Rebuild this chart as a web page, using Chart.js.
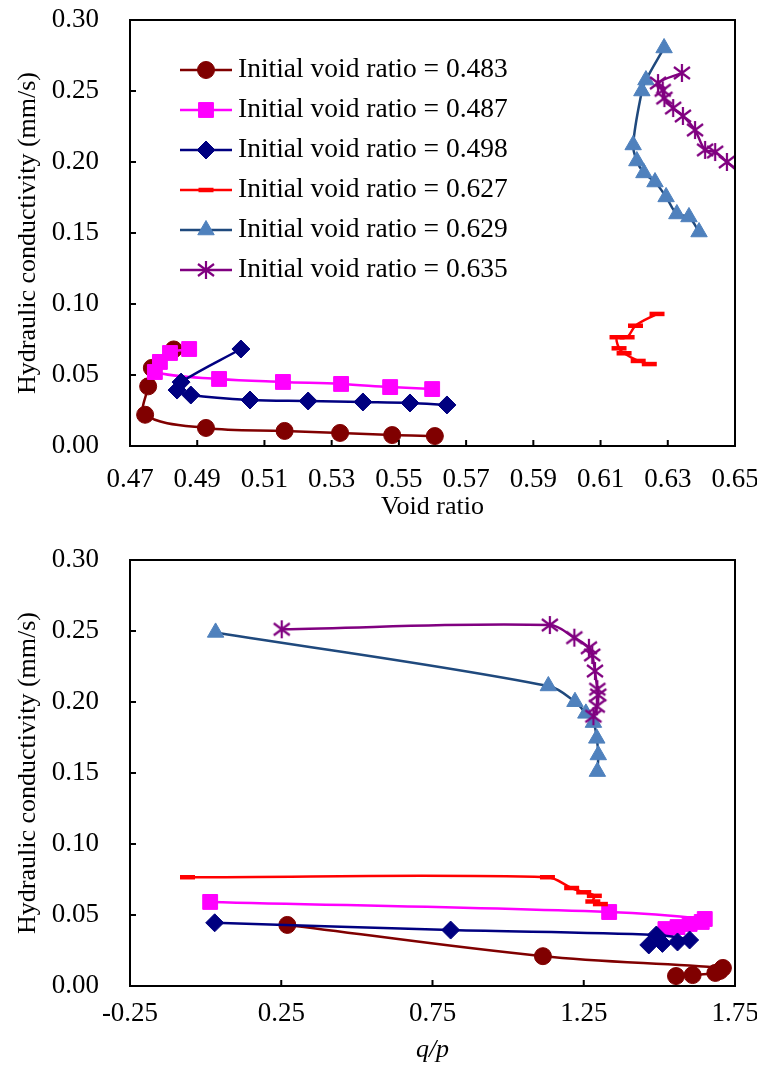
<!DOCTYPE html>
<html lang="en">
<head>
<meta charset="UTF-8">
<title>Hydraulic conductivity</title>
<script src="https://cdn.jsdelivr.net/npm/chart.js"></script>
<style>
  body { margin: 0; background: #fff; }
  .box { position: absolute; left: 0; }
  #top { top: 0; }
  #bottom { top: 520px; }
</style>
</head>
<body>
<div class="box" id="top"><canvas id="voidChart" width="757" height="520"></canvas></div>
<div class="box" id="bottom"><canvas id="qpChart" width="757" height="550"></canvas></div>
<script>
const seriesNames = ['Initial void ratio = 0.483', 'Initial void ratio = 0.487', 'Initial void ratio = 0.498',
                     'Initial void ratio = 0.627', 'Initial void ratio = 0.629', 'Initial void ratio = 0.635'];

// top chart: void ratio vs hydraulic conductivity
const e483 = [0.4830, 0.4765, 0.4754, 0.4745, 0.4926, 0.5160, 0.5325, 0.5480, 0.5607];
const k483 = [0.0680, 0.0550, 0.0420, 0.0220, 0.0127, 0.0106, 0.0092, 0.0077, 0.0070];
const e487 = [0.4876, 0.4819, 0.4789, 0.4774, 0.4965, 0.5155, 0.5328, 0.5474, 0.5599];
const k487 = [0.0683, 0.0655, 0.0592, 0.0521, 0.0472, 0.0451, 0.0437, 0.0415, 0.0401];
const e498 = [0.5030, 0.4852, 0.4840, 0.4881, 0.5057, 0.5230, 0.5393, 0.5533, 0.5643];
const k498 = [0.0683, 0.0450, 0.0394, 0.0359, 0.0324, 0.0317, 0.0310, 0.0303, 0.0289];
const e627 = [0.6268, 0.6204, 0.6179, 0.6149, 0.6155, 0.6170, 0.6212, 0.6245];
const k627 = [0.0930, 0.0847, 0.0766, 0.0766, 0.0688, 0.0653, 0.0599, 0.0577];
const e629 = [0.6289, 0.6235, 0.6223, 0.6197, 0.6208, 0.6229, 0.6262, 0.6295, 0.6327, 0.6363, 0.6393];
const k629 = [0.2803, 0.2577, 0.2500, 0.2120, 0.2007, 0.1923, 0.1859, 0.1754, 0.1634, 0.1613, 0.1507];
const e635 = [0.6342, 0.6271, 0.6285, 0.6290, 0.6316, 0.6345, 0.6381, 0.6411, 0.6441, 0.6476, 0.6535];
const k635 = [0.2627, 0.2556, 0.2505, 0.2450, 0.2380, 0.2324, 0.2225, 0.2085, 0.2070, 0.2000, 0.1880];

// bottom chart: q/p vs hydraulic conductivity
const q483 = [0.270, 1.115, 1.710, 1.700, 1.685, 1.610, 1.555];
const kq483 = [0.0430, 0.0210, 0.0127, 0.0106, 0.0092, 0.0077, 0.0070];
const q487 = [0.015, 1.334, 1.650, 1.640, 1.600, 1.560, 1.520];
const kq487 = [0.0592, 0.0521, 0.0472, 0.0451, 0.0437, 0.0415, 0.0401];
const q498 = [0.030, 0.810, 1.490, 1.600, 1.560, 1.510, 1.465];
const kq498 = [0.0445, 0.0394, 0.0359, 0.0324, 0.0310, 0.0300, 0.0289];
const q627 = [-0.060, 1.130, 1.210, 1.250, 1.285, 1.280, 1.305];
const kq627 = [0.0766, 0.0766, 0.0690, 0.0660, 0.0635, 0.0595, 0.0577];
const q629 = [0.033, 1.133, 1.221, 1.257, 1.282, 1.293, 1.298, 1.295];
const kq629 = [0.2490, 0.2113, 0.2002, 0.1920, 0.1855, 0.1744, 0.1627, 0.1510];
const q635 = [0.2515, 1.138, 1.219, 1.267, 1.278, 1.287, 1.295, 1.298, 1.293, 1.282];
const kq635 = [0.2512, 0.2542, 0.2453, 0.2382, 0.2331, 0.2218, 0.2090, 0.2050, 0.1970, 0.1900];

const yTicks = { min: 0, max: 0.30, step: 0.05 };
const voidTicks = { min: 0.47, max: 0.65, step: 0.02 };
const qpTicks = { min: -0.25, max: 1.75, step: 0.5 };

const SERIF = '"Liberation Serif", "Times New Roman", serif';

function makeAsterisk(color) {
    const c = document.createElement('canvas');
    c.width = 20; c.height = 20;
    const g = c.getContext('2d');
    g.strokeStyle = color;
    g.lineWidth = 2.2;
    g.beginPath();
    g.moveTo(10, 1); g.lineTo(10, 19);
    g.moveTo(2, 4); g.lineTo(18, 16);
    g.moveTo(18, 4); g.lineTo(2, 16);
    g.stroke();
    return c;
}

const styles = [
    { line: '#800000', fill: '#800000', point: 'circle', radius: 8.5, bw: 1 },
    { line: '#FF00FF', fill: '#FF00FF', point: 'rect', radius: 10.5, bw: 1 },
    { line: '#000080', fill: '#000080', point: 'rectRot', radius: 9, bw: 1 },
    { line: '#FF0000', fill: '#FF0000', point: 'line', radius: 7.5, bw: 4.5 },
    { line: '#1F497D', fill: '#4F81BD', point: 'triangle', radius: 9.5, bw: 1, pointBorder: '#4F81BD' },
    { line: '#800080', fill: '#800080', point: makeAsterisk('#800080'), radius: 9, bw: 1 }
];

const zip = (xs, ys) => xs.map((x, i) => ({ x: x, y: ys[i] }));

function buildSets(xsList, ysList) {
    return xsList.map((xs, i) => {
        const s = styles[i];
        return {
            label: seriesNames[i],
            data: zip(xs, ysList[i]),
            showLine: true,
            tension: 0.35,
            borderColor: s.line,
            borderWidth: 2.5,
            backgroundColor: s.fill,
            pointStyle: s.point,
            pointRadius: s.radius,
            pointBackgroundColor: s.fill,
            pointBorderColor: s.pointBorder || s.fill,
            pointBorderWidth: s.bw,
            order: 10 - i
        };
    });
}

// box around the plot and inward tick marks, like Excel
const framePlugin = {
    id: 'frame',
    afterDatasetsDraw(chart) {
        const { ctx, chartArea: a, scales } = chart;
        ctx.save();
        ctx.strokeStyle = '#000';
        ctx.lineWidth = 2;
        ctx.strokeRect(a.left, a.top, a.right - a.left, a.bottom - a.top);
        ctx.beginPath();
        scales.x.ticks.forEach((t, i) => {
            const px = scales.x.getPixelForTick(i);
            ctx.moveTo(px, a.bottom); ctx.lineTo(px, a.bottom - 6);
        });
        scales.y.ticks.forEach((t, i) => {
            const py = scales.y.getPixelForTick(i);
            ctx.moveTo(a.left, py); ctx.lineTo(a.left + 6, py);
        });
        ctx.stroke();
        ctx.restore();
    }
};

// legend with line + marker, inside the top plot
const legendPlugin = {
    id: 'lineLegend',
    afterDraw(chart) {
        const opts = chart.options.plugins.lineLegend;
        if (!opts || !opts.show) return;
        const ctx = chart.ctx;
        ctx.save();
        chart.data.datasets.forEach((ds, i) => {
            const y = opts.y0 + i * opts.dy;
            ctx.strokeStyle = ds.borderColor;
            ctx.lineWidth = ds.borderWidth;
            ctx.beginPath();
            ctx.moveTo(opts.x0, y); ctx.lineTo(opts.x1, y);
            ctx.stroke();
            ctx.fillStyle = ds.pointBackgroundColor;
            ctx.strokeStyle = ds.pointBorderColor;
            ctx.lineWidth = ds.pointBorderWidth;
            Chart.helpers.drawPoint(ctx, { pointStyle: ds.pointStyle, radius: ds.pointRadius, borderWidth: ds.pointBorderWidth, rotation: 0 }, (opts.x0 + opts.x1) / 2, y);
            ctx.fillStyle = '#000';
            ctx.font = opts.font;
            ctx.textBaseline = 'middle';
            ctx.fillText(ds.label, opts.textX, y);
        });
        ctx.restore();
    }
};

function makeChart(id, sets, xr, xTitle, xTitleItalic, axisHeight, padTop, tickPad, titlePadBottom, showLegend) {
    return new Chart(document.getElementById(id), {
        type: 'scatter',
        data: { datasets: sets },
        options: {
            responsive: false,
            animation: false,
            layout: { padding: { top: padTop, right: 22, left: 0, bottom: 0 } },
            plugins: {
                legend: { display: false },
                tooltip: { enabled: false },
                lineLegend: { show: showLegend, x0: 180, x1: 232, textX: 238, y0: 70, dy: 40, font: '27.5px ' + SERIF }
            },
            scales: {
                x: {
                    type: 'linear',
                    min: xr.min, max: xr.max,
                    grid: { display: false, drawTicks: false },
                    border: { display: false },
                    ticks: {
                        stepSize: xr.step, padding: tickPad, color: '#000',
                        font: { family: SERIF, size: 27 },
                        maxRotation: 0,
                        callback: v => v.toFixed(2)
                    },
                    title: {
                        display: true, text: xTitle, color: '#000',
                        font: { family: SERIF, size: 26, lineHeight: 1, style: xTitleItalic ? 'italic' : 'normal' },
                        padding: { top: 0, bottom: titlePadBottom }
                    },
                    afterFit: s => { s.height = axisHeight; s.paddingLeft = 0; s.paddingRight = 0; }
                },
                y: {
                    type: 'linear',
                    min: yTicks.min, max: yTicks.max,
                    grid: { display: false, drawTicks: false },
                    border: { display: false },
                    ticks: {
                        stepSize: yTicks.step, padding: 31, color: '#000',
                        font: { family: SERIF, size: 27 },
                        callback: v => v.toFixed(2)
                    },
                    title: {
                        display: true, text: 'Hydraulic conductivity (mm/s)', color: '#000',
                        font: { family: SERIF, size: 26, lineHeight: 1 },
                        padding: { top: 15, bottom: 0 }
                    },
                    afterFit: s => { s.width = 130; s.paddingTop = 0; s.paddingBottom = 0; }
                }
            }
        },
        plugins: [framePlugin, legendPlugin]
    });
}

makeChart('voidChart',
    buildSets([e483, e487, e498, e627, e629, e635], [k483, k487, k498, k627, k629, k635]),
    voidTicks, 'Void ratio', false, 74, 20, 18, 0, true);

makeChart('qpChart',
    buildSets([q483, q487, q498, q627, q629, q635], [kq483, kq487, kq498, kq627, kq629, kq635]),
    qpTicks, 'q/p', true, 84, 40, 12, 7, false);
</script>
</body>
</html>
